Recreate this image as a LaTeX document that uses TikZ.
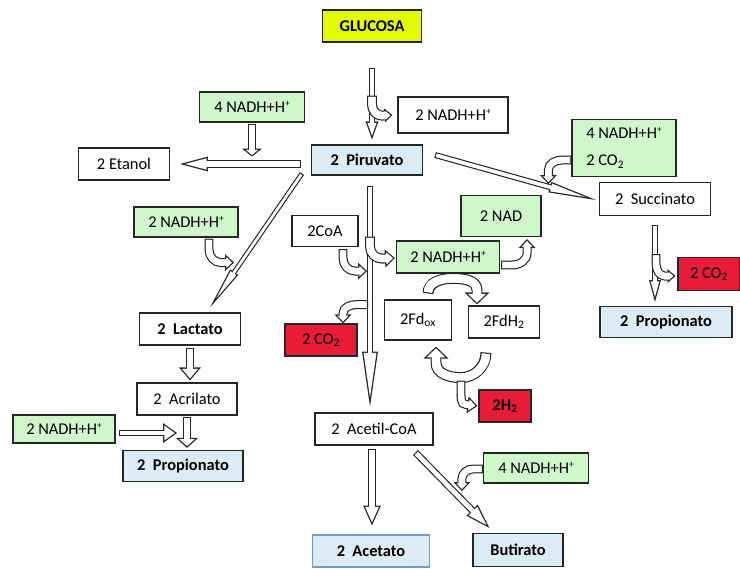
\documentclass[tikz,border=0pt]{standalone}
\usepackage{fontspec}
\setmainfont{Carlito}
\usetikzlibrary{arrows.meta,calc}
\definecolor{glucyellow}{RGB}{228,250,0}
\definecolor{nadhgreen}{RGB}{208,247,204}
\definecolor{prodblue}{RGB}{220,236,244}
\definecolor{gasred}{RGB}{232,28,56}
\definecolor{acetblue}{RGB}{110,155,210}
\newcommand\hplus{\raisebox{0.75ex}{\fontsize{8}{8}\selectfont +}}
\begin{document}
\begin{tikzpicture}[x=0.03cm, y=-0.03cm,
	every node/.style={draw=black!85, line width=1pt, inner sep=0pt, font=\fontsize{14}{17}\selectfont},
	box/.style 2 args={minimum width=#1*0.03cm, minimum height=#2*0.03cm},
	substrate/.style={fill=glucyellow, font=\fontsize{14}{17}\selectfont\bfseries},
	cofactor/.style={fill=nadhgreen},
	product/.style={fill=prodblue, font=\fontsize{14}{17}\selectfont\bfseries},
	gas/.style={fill=gasred},
	pathway/.code n args={3}{%
		\pgfmathsetlengthmacro\pwOut{#1*0.85pt}%
		\pgfmathsetlengthmacro\pwIn{#1*0.85pt-2.2pt}%
		\pgfmathsetlengthmacro\pwLen{#2*0.85pt}%
		\pgfmathsetlengthmacro\pwWid{#3*0.85pt}%
		\pgfmathsetlengthmacro\pwBack{1.1pt*veclen(#3*0.425,#2*0.85)/(#3*0.425)}%
		\pgfmathsetlengthmacro\pwInLen{#2*0.85pt-\pwBack-1.1pt}%
		\pgfmathsetlengthmacro\pwInWid{#3*(#2*0.85pt-\pwBack-1.1pt)/#2}%
		\pgfmathsetlengthmacro\pwFill{#2*0.85pt-1.7pt}%
		\edef\pwDo{\noexpand\tikzset{
			preaction={draw=black!85, line width=\pwOut, shorten <=0pt, shorten >=0pt, -{Triangle[length=\pwLen, width=\pwWid, line width=0pt]}},
			preaction={draw=white, line width=\pwIn, shorten <=1.1pt, shorten >=\pwFill, -},
			draw=white, line width=\pwIn, shorten <=1.1pt, shorten >=\pwBack,
			-{Triangle[length=\pwInLen, width=\pwInWid, line width=0pt]}}}%
		\pwDo}]
	\useasboundingbox (0,0) rectangle (740,568);
	
	\node (glucosa) [substrate, box={99}{32}] at (372,26) {GLUCOSA};
	\node (nadhtop) [box={110}{36}] at (453,115) {2 NADH+H\hplus};
	\node (piruvato) [product, box={111}{30}] at (367,160) {2~~Piruvato};
	\node (nadhetanol) [cofactor, box={105}{30}] at (252,107) {4 NADH+H\hplus};
	\node (etanol) [box={91}{32}] at (124,164) {2 Etanol};
	\node (nadhlactato) [cofactor, box={104}{30}] at (186,222) {2 NADH+H\hplus};
	\node (coa) [box={66}{31}] at (325,231) {2CoA};
	\node (nad) [cofactor, box={80}{41}] at (501,216) {2 NAD};
	\node (nadhmid) [cofactor, box={103}{32}] at (448,257) {2 NADH+H\hplus};
	\node (nadhsucc) [cofactor, box={104}{57}, align=left, font=\fontsize{14}{23}\selectfont] at (624,148) {4 NADH+H\hplus\\2 CO\textsubscript{2}};
	\node (succinato) [box={111}{33}] at (655,199) {2~~Succinato};
	\node (co2right) [gas, box={62}{33}] at (709,274) {2 CO\textsubscript{2}};
	\node (propright) [product, box={132}{31}] at (666,322) {2~~Propionato};
	\node (fdox) [box={67}{40}] at (418,320) {2Fd\textsubscript{ox}};
	\node (fdh) [box={71}{32}] at (504,322) {2FdH\textsubscript{2}};
	\node (co2mid) [gas, box={72}{32}] at (321,340) {2 CO\textsubscript{2}};
	\node (lactato) [box={101}{32}, font=\fontsize{14}{17}\selectfont\bfseries] at (190,329) {2~~Lactato};
	\node (acrilato) [box={100}{32}] at (187,399) {2~~Acrilato};
	\node (nadhacril) [cofactor, box={102}{28}] at (64,429) {2 NADH+H\hplus};
	\node (propleft) [product, box={120}{31}] at (183,466) {2~~Propionato};
	\node (htwo) [gas, box={52}{32}, font=\fontsize{14}{17}\selectfont\bfseries] at (505,406) {2H\textsubscript{2}};
	\node (acetil) [box={118}{32}] at (374,429) {2~~Acetil-CoA};
	\node (nadhbut) [cofactor, box={105}{30}] at (536,468) {4 NADH+H\hplus};
	\node (acetato) [product, draw=acetblue, box={117}{32}] at (371,551) {2~~Acetato};
	\node (butirato) [product, box={90}{33}] at (518,550) {Butirato};
	
	\draw[pathway={7}{18}{13}] ($(glucosa.south)+(0,25)$) -- ($(glucosa.south |- piruvato.north)+(0,-5)$);
	\draw[pathway={10}{8}{14}] ($(glucosa.south)+(0,53)$) -- ++(0,9) to[out=-90,in=180] ++(10,11) -- ($(nadhtop.west)+(-5,0)$);
	
	\draw[pathway={8}{28}{15}] ($(piruvato.west)+(-10,4)$) -- ($(etanol.east)+(10,0)$);
	\draw[pathway={9}{8}{20}] ($(nadhetanol.south)+(0,1)$) -- ($(nadhetanol.south)+(0,34)$);
	
	\draw[pathway={5}{43}{10}] ($(piruvato.south west)+(-9,-2)$) -- ($(lactato.north)+(20,-5)$);
	\draw[pathway={9}{9}{17}] ($(nadhlactato.south)+(23,1)$) -- ++(0,11) to[out=-90,in=180] ++(12,13) -- ++(13,0);
	
	\draw[pathway={6}{48}{11}] ($(piruvato.east)+(12,-5)$) -- ($(succinato.west)+(-3,1)$);
	\draw[pathway={9}{9}{17}] ($(nadhsucc.west)+(0,12)$) -- ++(-9,0) to[out=180,in=90] ++(-14,10) -- ++(0,14);
	
	\draw[pathway={7}{55}{16}] ($(piruvato.south)+(3,10)$) -- ($(piruvato.south |- acetil.north)+(3,-6)$);
	\draw[pathway={10}{10}{18}] ($(piruvato.south)+(3,61)$) -- ++(0,10) to[out=-90,in=180] ++(12,12) -- ($(nadhmid.west)+(-1,1)$);
	\draw[pathway={9}{9}{17}] ($(coa.south)+(18,2)$) -- ++(0,9) to[out=-90,in=180] ++(12,13) -- ++(12,0);
	\draw[pathway={9}{9}{17}] ($(piruvato.south)+(1,129)$) -- ++(-11,0) to[out=180,in=90] ++(-14,9) -- ($(co2mid.north)+(22,0)$);
	
	\draw[pathway={9}{9}{17}] ($(nadhmid.east)+(1,8)$) -- ++(11,0) to[out=0,in=-90] ++(15,-12) -- ($(nad.south)+(26,2)$);
	\draw[pathway={11}{12}{25}] ($(fdox.north)+(10,-6)$) to[out=90,in=180] ++(24,-15) to[out=0,in=90] ++(25,12) -- ($(fdh.north)+(-27,-1)$);
	\draw[pathway={11}{12}{25}] ($(fdh.south)+(-18,14)$) to[out=-90,in=0] ++(-25,25) to[out=180,in=-90] ++(-25,-15) -- ($(fdox.south)+(18,6)$);
	\draw[pathway={9}{10}{17}] ($(fdh.south)+(-43,42)$) -- ++(0,10) to[out=-90,in=180] ++(5,14) -- ($(htwo.west)+(-1,0)$);
	
	\draw[pathway={8}{13}{22}] ($(lactato.south)+(0,2)$) -- ($(lactato.south |- acrilato.north)+(0,-2)$);
	\draw[pathway={8}{10}{22}] ($(acrilato.south)+(0,1)$) -- ($(acrilato.south |- propleft.north)+(0,-2)$);
	\draw[pathway={7}{14}{20}] ($(nadhacril.east)+(3,4)$) -- ($(acrilato.south |- nadhacril.east)+(-10,4)$);
	
	\draw[pathway={7}{22}{12}] ($(succinato.south)+(0,9)$) -- ($(succinato.south |- propright.north)+(0,-4)$);
	\draw[pathway={9}{8}{14}] ($(succinato.south)+(1,38)$) -- ++(0,9) to[out=-90,in=180] ++(9,13) -- ($(co2right.west)+(-2,2)$);
	
	\draw[pathway={8}{20}{18}] ($(acetil.south)+(-2,3)$) -- ($(acetil.south |- acetato.north)+(-2,-9)$);
	\draw[pathway={7}{25}{16}] ($(acetil.south east)+(-18,7)$) -- ($(butirato.north west)+(17,-5)$);
	\draw[pathway={9}{9}{17}] ($(nadhbut.west)+(0,1)$) -- ++(-10,0) to[out=180,in=90] ++(-11,10) -- ++(0,12);
\end{tikzpicture}
\end{document}
